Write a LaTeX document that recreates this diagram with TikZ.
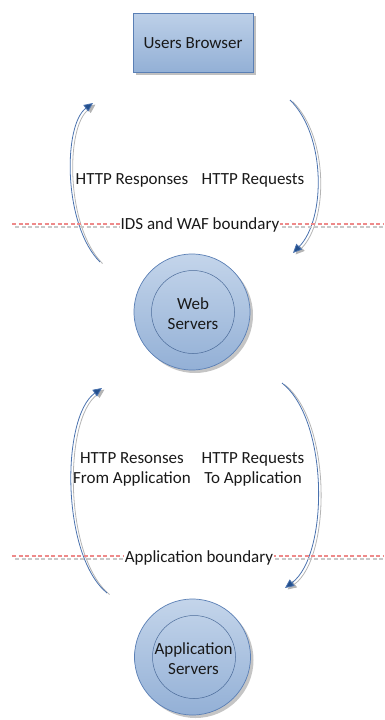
\documentclass[tikz,border=0pt]{standalone}
\usepackage{fontspec}
\setmainfont{Carlito}
\usetikzlibrary{arrows.meta}
\definecolor{boxtop}{HTML}{BDD0E8}
\definecolor{boxbot}{HTML}{93B0D6}
\definecolor{boxline}{HTML}{5A7FB5}
\definecolor{flowblue}{HTML}{4A72AE}
\definecolor{tipblue}{HTML}{234F8C}
\definecolor{shgray}{HTML}{B4B4B4}
\definecolor{dashred}{HTML}{EE8A8A}
\definecolor{dashgray}{HTML}{C8C8C8}
\begin{document}
\begin{tikzpicture}[x=1pt,y=-1pt,
  txt/.style={font=\fontsize{17}{20}\selectfont, text=black!90, align=center, inner sep=0pt},
  bnd/.style={txt, fill=white, inner xsep=1pt, inner ysep=2pt},
  boxnode/.style={rectangle, minimum width=120pt, minimum height=59pt, top color=boxtop, bottom color=boxbot, draw=boxline, line width=0.7pt},
  boxshadow/.style={rectangle, minimum width=120pt, minimum height=59pt, fill=black!45, opacity=0.55},
  outercirc/.style={circle, minimum size=116pt, inner sep=0pt, top color=boxtop!90!white, bottom color=boxbot, draw=boxline, line width=0.7pt},
  innercirc/.style={circle, minimum size=83pt, inner sep=0pt, draw=boxline!85!black, line width=0.5pt},
  circshadow/.style={circle, minimum size=116pt, inner sep=0pt, fill=black!45, opacity=0.5},
  flow/.style={draw=flowblue, line width=0.8pt, -{Triangle[length=9pt,width=8pt,fill=tipblue]}},
  flowsh/.style={draw=shgray, line width=0.8pt, -{Triangle[length=9pt,width=8pt,fill=shgray]}},
  redline/.style={draw=dashred, line width=1.1pt, dash pattern=on 4pt off 2.5pt},
  grayline/.style={draw=dashgray, line width=1.1pt, dash pattern=on 4pt off 2.5pt}
]
\useasboundingbox (0,0) rectangle (384,720);

% Users browser
\node[boxshadow] (ubsh) at (196,45.5) {};
\node[boxnode] (ub) at (193,42.5) {};
\node[txt, anchor=base] (ubt) at (193,48) {Users Browser};

% Web servers
\node[circshadow] (wssh) at (195,315) {};
\node[outercirc] (ws) at (192,312) {};
\node[innercirc] (wsi) at (193,312) {};
\node[txt] (wst) at (193,314) {Web\\Servers};

% Application servers
\node[circshadow] (assh) at (195.5,660) {};
\node[outercirc] (as) at (192.5,657) {};
\node[innercirc] (asi) at (194,657) {};
\node[txt] (ast) at (193.5,659) {Application\\Servers};

% coordinates for flows
\coordinate (a1s) at (100,262);
\coordinate (a1e) at (93,103);
\coordinate (a2s) at (290,100);
\coordinate (a2e) at (293,253);
\coordinate (a3s) at (107,593);
\coordinate (a3e) at (102,388);
\coordinate (a4s) at (282,383);
\coordinate (a4e) at (285,588);

% shadows of flows
\begin{scope}[transform canvas={xshift=2.5pt,yshift=-1.5pt}]
\draw[flowsh] (a1s) .. controls (63,225) and (63,125) .. (a1e);
\draw[flowsh] (a2s) .. controls (326,135) and (326,219) .. (a2e);
\draw[flowsh] (a3s) .. controls (61,555) and (61,417) .. (a3e);
\draw[flowsh] (a4s) .. controls (329,420) and (329,555) .. (a4e);
\end{scope}
\draw[flow] (a1s) .. controls (63,225) and (63,125) .. (a1e);
\draw[flow] (a2s) .. controls (326,135) and (326,219) .. (a2e);
\draw[flow] (a3s) .. controls (61,555) and (61,417) .. (a3e);
\draw[flow] (a4s) .. controls (329,420) and (329,555) .. (a4e);

% boundaries
\coordinate (b1l) at (12,224);
\coordinate (b1r) at (384,224);
\coordinate (b1gl) at (15,227);
\coordinate (b1gr) at (384,227);
\draw[grayline] (b1gl) -- (b1gr);
\draw[redline] (b1l) -- (b1r);
\node[bnd, anchor=base] (b1t) at (200,229) {IDS and WAF boundary};

\coordinate (b2l) at (12,556);
\coordinate (b2r) at (384,556);
\coordinate (b2gl) at (15,559);
\coordinate (b2gr) at (384,559);
\draw[grayline] (b2gl) -- (b2gr);
\draw[redline] (b2l) -- (b2r);
\node[bnd, anchor=base] (b2t) at (199,562) {Application boundary};

% flow labels
\node[txt, anchor=base] (l1) at (132,184) {HTTP Responses};
\node[txt, anchor=base] (l2) at (253,184) {HTTP Requests};
\node[txt, anchor=base] (l3) at (132,483) {HTTP Resonses\\From Application};
\node[txt, anchor=base] (l4) at (253,483) {HTTP Requests\\To Application};
\end{tikzpicture}
\end{document}
